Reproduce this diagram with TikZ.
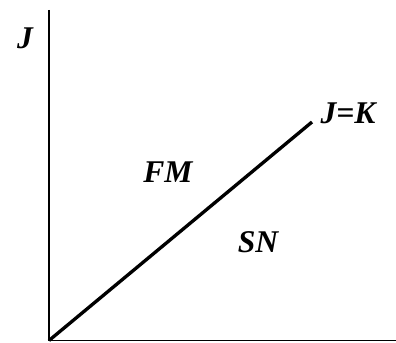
\documentclass[tikz,border=0pt]{standalone}
\usepackage{fontspec}
\setmainfont{Liberation Serif}[
    BoldFont={Liberation Serif Bold},
    ItalicFont={Liberation Serif Italic},
    BoldItalicFont={Liberation Serif Bold Italic}]
\usetikzlibrary{positioning}
\tikzset{
    % axis and line styles
    axisline/.style={
        draw=black,
        line width=0.85pt
    },
    boundline/.style={
        draw=black,
        line width=1.9pt
    },
    % region labels
    phaselabel/.style={
        inner sep=0pt,
        font=\fontsize{18}{21}\selectfont\bfseries\itshape
    }
}
\begin{document}
\begin{tikzpicture}[x=0.02cm, y=0.02cm]
    \useasboundingbox (0,0) rectangle (396,342);
    \coordinate (origin) at (49,1.5);
    \coordinate (ytop) at (49,332);
    \coordinate (xend) at (396,1.5);
    \coordinate (bend) at (312,220);

    \node[phaselabel] (jlab) at (25,304) {J};
    \node[phaselabel] (jk) at (348,229) {J=K};
    \node[phaselabel] (fm) at (168,170) {FM};
    \node[phaselabel] (sn) at (258,100) {SN};

    \draw[axisline] (ytop) -- (origin) -- (xend);
    \draw[boundline] (origin) -- (bend);
\end{tikzpicture}
\end{document}
